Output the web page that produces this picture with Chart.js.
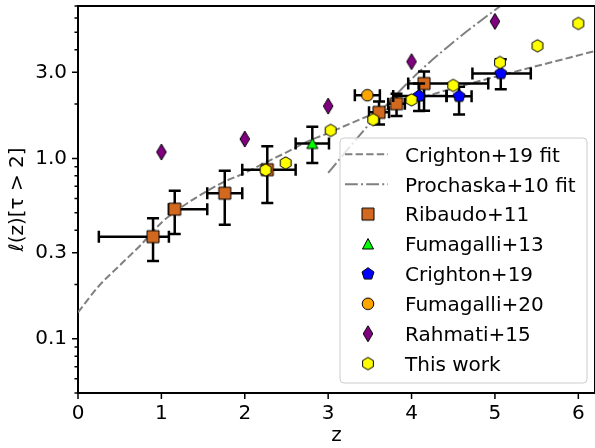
<!DOCTYPE html>
<html>
<head>
<meta charset="utf-8">
<script src="https://cdn.jsdelivr.net/npm/chart.js@4.4.0/dist/chart.umd.min.js"></script>
<style>
  html, body { margin: 0; padding: 0; background: #fff; }
  #wrap { width: 595px; height: 448px; }
</style>
</head>
<body>
<div id="wrap"><canvas id="lls" width="595" height="448"></canvas></div>
<script>
// Fit curves, sampled off the figure
const crightonFitZ = [0, 0.25, 0.5, 0.75, 1.0, 1.25, 1.5, 1.75, 2.0, 2.25, 2.5, 2.75, 3.0, 3.25, 3.5, 4.0, 4.5, 5.0, 5.5, 6.2];
const crightonFitL = [0.14, 0.196, 0.255, 0.33, 0.44, 0.54, 0.64, 0.74, 0.83, 0.95, 1.08, 1.24, 1.38, 1.55, 1.73, 2.08, 2.45, 2.83, 3.25, 3.94];
const prochaskaFitZ = [3.0, 3.3, 3.7, 4.1, 4.6, 5.1];
const prochaskaFitL = [0.83, 1.22, 1.98, 3.05, 4.8, 7.2];

// Ribaudo+11
const ribaudoZ   = [0.90, 1.16, 1.76, 2.27, 3.61, 3.82, 4.15];
const ribaudoL   = [0.368, 0.523, 0.641, 0.865, 1.80, 2.01, 2.60];
const ribaudoZlo = [0.25, 1.09, 1.55, 1.97, 3.49, 3.72, 3.96];
const ribaudoZhi = [1.09, 1.55, 1.97, 2.61, 3.73, 3.92, 4.92];
const ribaudoLlo = [0.27, 0.381, 0.428, 0.565, 1.54, 1.72, 1.84];
const ribaudoLhi = [0.466, 0.661, 0.854, 1.166, 2.07, 2.28, 3.03];

// Fumagalli+13
const fum13Z = [2.81], fum13L = [1.21];
const fum13Zlo = [2.61], fum13Zhi = [3.01];
const fum13Llo = [0.943], fum13Lhi = [1.50];

// Crighton+19
const crightonZ   = [4.09, 4.57, 5.07];
const crightonL   = [2.22, 2.21, 2.96];
const crightonZlo = [3.78, 4.42, 4.73];
const crightonZhi = [4.42, 4.72, 5.43];
const crightonLlo = [1.83, 1.75, 2.42];
const crightonLhi = [2.6, 2.5, 3.55];

// Fumagalli+20
const fum20Z = [3.47], fum20L = [2.24];
const fum20Zlo = [3.32], fum20Zhi = [3.62];

// Rahmati+15
const rahmatiZ = [1.0, 2.0, 3.0, 4.0, 5.0];
const rahmatiL = [1.085, 1.28, 1.95, 3.44, 5.75];

// This work
const thisZ = [2.25, 2.49, 3.03, 3.54, 4.0, 4.5, 5.06, 5.51, 6.0];
const thisL = [0.862, 0.943, 1.43, 1.64, 2.11, 2.54, 3.40, 4.21, 5.6];

const xTicks = [0, 1, 2, 3, 4, 5, 6];
const yTicks = [0.05, 0.06, 0.07, 0.08, 0.09, 0.1, 0.2, 0.3, 0.4, 0.5, 0.6, 0.7, 0.8, 0.9, 1, 2, 3, 4, 5, 6, 7];
const yLabelled = [0.1, 0.3, 1, 3];

const FONT = { family: 'DejaVu Sans', size: 20 };
const GREY = '#808080';

function pts(z, l, zlo, zhi, llo, lhi) {
    return z.map((v, i) => ({
        x: v, y: l[i],
        xMin: zlo ? zlo[i] : v, xMax: zhi ? zhi[i] : v,
        yMin: llo ? llo[i] : l[i], yMax: lhi ? lhi[i] : l[i]
    }));
}

function curve(z, l) {
    return z.map((v, i) => ({ x: v, y: l[i] }));
}

// small canvases used as point styles (matplotlib-like markers)
function marker(shape, fill) {
    const c = document.createElement('canvas');
    c.width = 20; c.height = 20;
    const g = c.getContext('2d');
    g.translate(10, 10);
    g.beginPath();
    if (shape === 'square') {
        g.rect(-6, -6, 12, 12);
    } else if (shape === 'circle') {
        g.arc(0, 0, 5.8, 0, Math.PI * 2);
    } else if (shape === 'diamond') {
        g.moveTo(0, -8); g.lineTo(4.8, 0); g.lineTo(0, 8); g.lineTo(-4.8, 0); g.closePath();
    } else if (shape === 'triangle') {
        g.moveTo(0, -5.5); g.lineTo(5.5, 5); g.lineTo(-5.5, 5); g.closePath();
    } else {
        const n = shape === 'pentagon' ? 5 : 6;
        const r = shape === 'pentagon' ? 6.3 : 6.2;
        for (let k = 0; k < n; k++) {
            const a = -Math.PI / 2 + k * 2 * Math.PI / n;
            if (k === 0) g.moveTo(r * Math.cos(a), r * Math.sin(a));
            else g.lineTo(r * Math.cos(a), r * Math.sin(a));
        }
        g.closePath();
    }
    g.fillStyle = fill;
    g.fill();
    g.lineWidth = 1;
    g.strokeStyle = '#000';
    g.stroke();
    return c;
}

function scatterSet(label, data, style, order) {
    return {
        label: label,
        data: data,
        pointStyle: style,
        pointRadius: 6,
        showLine: false,
        errorBars: true,
        order: order
    };
}

// error bars drawn right before each dataset, like matplotlib errorbar
const errorBarPlugin = {
    id: 'errorBars',
    beforeDatasetDraw(chart, args) {
        const ds = chart.data.datasets[args.index];
        if (!ds.errorBars) return;
        const xs = chart.scales.x, ys = chart.scales.y;
        const ctx = chart.ctx;
        const cap = 6;
        ctx.save();
        ctx.strokeStyle = '#000';
        ctx.lineWidth = 2.5;
        ds.data.forEach(p => {
            const px = xs.getPixelForValue(p.x), py = ys.getPixelForValue(p.y);
            if (p.xMin !== p.xMax) {
                const x0 = xs.getPixelForValue(p.xMin), x1 = xs.getPixelForValue(p.xMax);
                ctx.beginPath();
                ctx.moveTo(x0, py); ctx.lineTo(x1, py);
                ctx.moveTo(x0, py - cap); ctx.lineTo(x0, py + cap);
                ctx.moveTo(x1, py - cap); ctx.lineTo(x1, py + cap);
                ctx.stroke();
            }
            if (p.yMin !== p.yMax) {
                const y0 = ys.getPixelForValue(p.yMin), y1 = ys.getPixelForValue(p.yMax);
                ctx.beginPath();
                ctx.moveTo(px, y0); ctx.lineTo(px, y1);
                ctx.moveTo(px - cap, y0); ctx.lineTo(px + cap, y0);
                ctx.moveTo(px - cap, y1); ctx.lineTo(px + cap, y1);
                ctx.stroke();
            }
        });
        ctx.restore();
    }
};

// spines, tick marks and the boxed legend
const framePlugin = {
    id: 'frame',
    afterDraw(chart) {
        const ctx = chart.ctx;
        const a = chart.chartArea;
        const xs = chart.scales.x, ys = chart.scales.y;
        ctx.save();
        ctx.strokeStyle = '#000';
        ctx.lineWidth = 2;
        ctx.beginPath();
        ctx.moveTo(a.left - 1, a.top); ctx.lineTo(a.right, a.top);
        ctx.moveTo(a.right, a.top); ctx.lineTo(a.right, a.bottom);
        ctx.stroke();

        ctx.lineWidth = 1.5;
        ctx.beginPath();
        xTicks.forEach(v => {
            const x = xs.getPixelForValue(v);
            ctx.moveTo(x, a.bottom); ctx.lineTo(x, a.bottom + 6);
        });
        yTicks.forEach(v => {
            const y = ys.getPixelForValue(v);
            const len = yLabelled.includes(v) ? 6 : 3.5;
            ctx.moveTo(a.left, y); ctx.lineTo(a.left - len, y);
        });
        ctx.stroke();

        // legend
        const bx = 340, by = 138, bw = 247, bh = 245;
        ctx.beginPath();
        ctx.roundRect(bx, by, bw, bh, 4);
        ctx.fillStyle = 'rgba(255,255,255,0.8)';
        ctx.fill();
        ctx.strokeStyle = '#cccccc';
        ctx.lineWidth = 1;
        ctx.stroke();

        ctx.font = '20px "DejaVu Sans"';
        ctx.textBaseline = 'alphabetic';
        ctx.textAlign = 'left';
        chart.data.datasets.forEach((ds, i) => {
            const rowY = 154.3 + i * 29.9;
            if (ds.showLine) {
                ctx.save();
                ctx.strokeStyle = ds.borderColor;
                ctx.lineWidth = ds.borderWidth;
                ctx.setLineDash(ds.borderDash);
                ctx.beginPath();
                ctx.moveTo(345, rowY); ctx.lineTo(388, rowY);
                ctx.stroke();
                ctx.restore();
            } else {
                ctx.drawImage(ds.pointStyle, 368 - 10, rowY - 10);
            }
            ctx.fillStyle = '#000';
            ctx.fillText(ds.label, 405, rowY + 7.3);
        });
        ctx.restore();
    }
};

const datasets = [
    {
        label: 'Crighton+19 fit',
        data: curve(crightonFitZ, crightonFitL),
        showLine: true,
        borderColor: GREY,
        borderWidth: 2,
        borderDash: [7.4, 3.2],
        pointRadius: 0,
        cubicInterpolationMode: 'monotone',
        order: 10
    },
    {
        label: 'Prochaska+10 fit',
        data: curve(prochaskaFitZ, prochaskaFitL),
        showLine: true,
        borderColor: GREY,
        borderWidth: 2,
        borderDash: [12.8, 3.2, 2, 3.2],
        pointRadius: 0,
        cubicInterpolationMode: 'monotone',
        order: 9
    },
    scatterSet('Ribaudo+11', pts(ribaudoZ, ribaudoL, ribaudoZlo, ribaudoZhi, ribaudoLlo, ribaudoLhi), marker('square', '#d2691e'), 6),
    scatterSet('Fumagalli+13', pts(fum13Z, fum13L, fum13Zlo, fum13Zhi, fum13Llo, fum13Lhi), marker('triangle', '#00ff00'), 5),
    scatterSet('Crighton+19', pts(crightonZ, crightonL, crightonZlo, crightonZhi, crightonLlo, crightonLhi), marker('pentagon', '#0000ff'), 4),
    scatterSet('Fumagalli+20', pts(fum20Z, fum20L, fum20Zlo, fum20Zhi), marker('circle', '#ffa500'), 3),
    scatterSet('Rahmati+15', pts(rahmatiZ, rahmatiL), marker('diamond', '#800080'), 2),
    scatterSet('This work', pts(thisZ, thisL), marker('hexagon', '#ffff00'), 1)
];

new Chart(document.getElementById('lls'), {
    type: 'scatter',
    data: { datasets: datasets },
    options: {
        responsive: false,
        animation: false,
        devicePixelRatio: 1,
        events: [],
        layout: { autoPadding: false, padding: { top: 6, right: 0, left: 0, bottom: 0 } },
        plugins: {
            legend: { display: false },
            tooltip: { enabled: false }
        },
        scales: {
            x: {
                type: 'linear',
                min: 0,
                max: 6.2,
                afterBuildTicks: (s) => { s.ticks = xTicks.map(v => ({ value: v })); },
                afterFit: (s) => { s.height = 55; s.paddingLeft = 0; s.paddingRight = 0; },
                grid: { display: false, drawTicks: false },
                border: { display: true, color: '#000', width: 2 },
                ticks: { font: FONT, color: '#000', padding: 9, maxRotation: 0, autoSkip: false },
                title: { display: true, text: 'z', font: FONT, color: '#000', padding: { top: 0, bottom: 0 } }
            },
            y: {
                type: 'logarithmic',
                min: 0.05,
                max: 7,
                afterBuildTicks: (s) => { s.ticks = yTicks.map(v => ({ value: v })); },
                afterFit: (s) => { s.width = 78; s.paddingTop = 0; s.paddingBottom = 0; },
                grid: { display: false, drawTicks: false },
                border: { display: true, color: '#000', width: 2 },
                ticks: {
                    font: FONT,
                    color: '#000',
                    padding: 11,
                    autoSkip: false,
                    callback: (v) => yLabelled.includes(v) ? v.toFixed(1) : ''
                },
                title: { display: true, text: 'ℓ(z)[τ > 2]', font: FONT, color: '#000', padding: { top: 6, bottom: 0 } }
            }
        }
    },
    plugins: [errorBarPlugin, framePlugin]
});
</script>
</body>
</html>
